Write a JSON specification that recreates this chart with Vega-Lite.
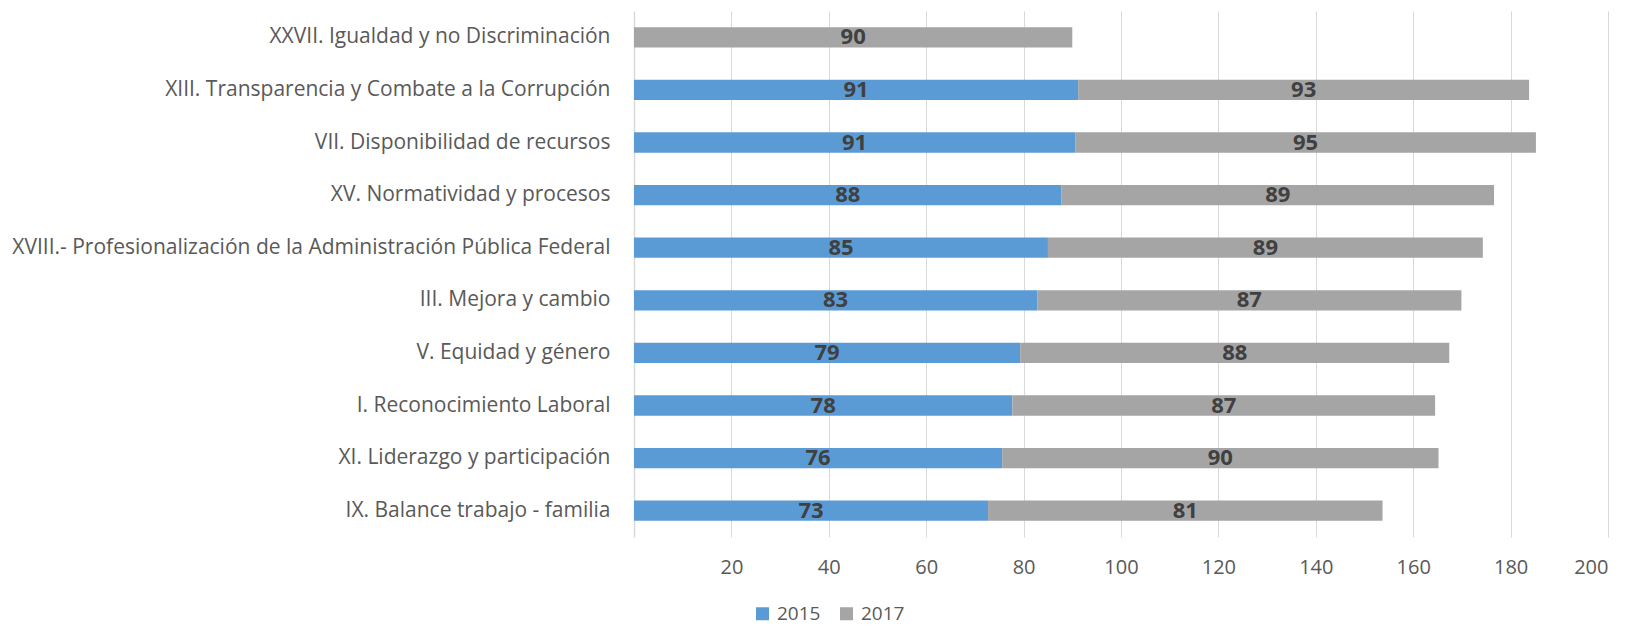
{
  "$schema": "https://vega.github.io/schema/vega-lite/v6.json",
  "width": 974,
  "height": 526,
  "autosize": {"type": "none"},
  "padding": {"left": 634, "top": 11, "right": 22, "bottom": 92},
  "config": {"view": {"stroke": null}, "font": "Open Sans"},
  "data": {
    "values": [
      {"category": "XXVII. Igualdad y no Discriminación", "year": "2017", "value": 90.0},
      {"category": "XIII. Transparencia y Combate a la Corrupción", "year": "2015", "value": 91.2},
      {"category": "XIII. Transparencia y Combate a la Corrupción", "year": "2017", "value": 92.6},
      {"category": "VII. Disponibilidad de recursos", "year": "2015", "value": 90.6},
      {"category": "VII. Disponibilidad de recursos", "year": "2017", "value": 94.6},
      {"category": "XV. Normatividad y procesos", "year": "2015", "value": 87.8},
      {"category": "XV. Normatividad y procesos", "year": "2017", "value": 88.8},
      {"category": "XVIII.- Profesionalización de la Administración Pública Federal", "year": "2015", "value": 85.0},
      {"category": "XVIII.- Profesionalización de la Administración Pública Federal", "year": "2017", "value": 89.3},
      {"category": "III. Mejora y cambio", "year": "2015", "value": 82.8},
      {"category": "III. Mejora y cambio", "year": "2017", "value": 87.1},
      {"category": "V. Equidad y género", "year": "2015", "value": 79.3},
      {"category": "V. Equidad y género", "year": "2017", "value": 88.1},
      {"category": "I. Reconocimiento Laboral", "year": "2015", "value": 77.7},
      {"category": "I. Reconocimiento Laboral", "year": "2017", "value": 86.8},
      {"category": "XI. Liderazgo y participación", "year": "2015", "value": 75.6},
      {"category": "XI. Liderazgo y participación", "year": "2017", "value": 89.6},
      {"category": "IX. Balance trabajo - familia ", "year": "2015", "value": 72.7},
      {"category": "IX. Balance trabajo - familia ", "year": "2017", "value": 81.0}
    ]
  },
  "transform": [
    {"stack": "value", "groupby": ["category"], "sort": [{"field": "year"}], "as": ["x0", "x1"]},
    {"calculate": "(datum.x0 + datum.x1) / 2", "as": "xmid"}
  ],
  "encoding": {
    "y": {
      "field": "category",
      "type": "nominal",
      "sort": null,
      "scale": {"paddingInner": 0.614, "paddingOuter": 0.307},
      "axis": {
        "title": null,
        "ticks": false,
        "domainColor": "#d9d9d9",
        "domainWidth": 1.5,
        "labelFontSize": 21,
        "labelColor": "#595959",
        "labelPadding": 24,
        "labelLimit": 700
      }
    }
  },
  "layer": [
    {
      "mark": {"type": "bar"},
      "encoding": {
        "x": {
          "field": "x0",
          "type": "quantitative",
          "scale": {"domain": [0, 200], "nice": false},
          "axis": {
            "title": null,
            "values": [20, 40, 60, 80, 100, 120, 140, 160, 180, 200],
            "domain": false,
            "ticks": false,
            "gridColor": "#d9d9d9",
            "labelFontSize": 20,
            "labelColor": "#595959",
            "labelPadding": 20
          }
        },
        "x2": {"field": "x1"},
        "color": {
          "field": "year",
          "type": "nominal",
          "scale": {"domain": ["2015", "2017"], "range": ["#5B9BD5", "#A5A5A5"]},
          "legend": {
            "title": null,
            "orient": "none",
            "direction": "horizontal",
            "legendX": 119,
            "legendY": 593,
            "symbolType": "square",
            "symbolSize": 169,
            "symbolStrokeWidth": 0,
            "labelFontSize": 19,
            "labelColor": "#595959",
            "labelOffset": 5,
            "columnPadding": 16
          }
        }
      }
    },
    {
      "mark": {"type": "text", "fontWeight": "bold", "fontSize": 22, "color": "#404040", "baseline": "middle"},
      "encoding": {
        "x": {"field": "xmid", "type": "quantitative"},
        "text": {"field": "value", "type": "quantitative", "format": ".0f"}
      }
    }
  ]
}
